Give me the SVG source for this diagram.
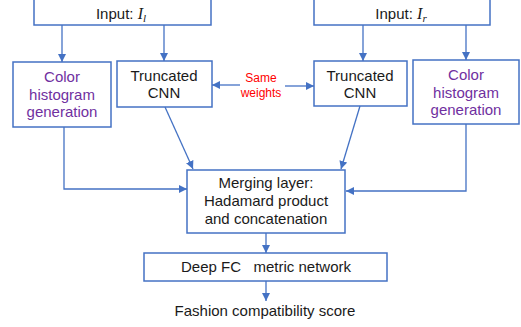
<svg xmlns="http://www.w3.org/2000/svg" width="521" height="327" viewBox="0 0 521 327">
<defs>
<marker id="ah" viewBox="0 0 10 10" refX="10" refY="5" markerWidth="8" markerHeight="8" markerUnits="userSpaceOnUse" orient="auto"><path d="M0,0 L10,5 L0,10 z" fill="#4472C4"/></marker>
<style>
.box{fill:#fff;stroke:#4472C4;stroke-width:1.5}
.t{font-family:"Liberation Sans",Arial,sans-serif;font-size:15px;fill:#1a1a1a;text-anchor:middle}
.p{fill:#7030A0}
.r{font-family:"Liberation Sans",Arial,sans-serif;font-size:12px;fill:#FF0000;text-anchor:middle}
.m{font-family:"Liberation Serif","Times New Roman",serif;font-style:italic}
.c{fill:none;stroke:#4472C4;stroke-width:1.3;marker-end:url(#ah)}
</style>
</defs>
<rect width="521" height="327" fill="#fff"/>
<g id="input-left"><rect class="box" x="34" y="-10" width="177" height="35"/><text class="t" x="121" y="19">Input: <tspan class="m" font-size="16">I</tspan><tspan class="m" font-size="11" dy="3">l</tspan></text></g>
<g id="input-right"><rect class="box" x="314" y="-10" width="176" height="35"/><text class="t" x="401" y="19">Input: <tspan class="m" font-size="16">I</tspan><tspan class="m" font-size="11" dy="3">r</tspan></text></g>
<g id="color-left"><rect class="box" x="13" y="62" width="98" height="65"/><text class="t p" x="62" y="82">Color</text><text class="t p" x="62" y="100">histogram</text><text class="t p" x="62" y="117">generation</text></g>
<g id="cnn-left"><rect class="box" x="117" y="61" width="95" height="46"/><text class="t" x="164" y="81">Truncated</text><text class="t" x="164" y="98">CNN</text></g>
<g id="cnn-right"><rect class="box" x="314" y="61" width="93" height="45"/><text class="t" x="360" y="81">Truncated</text><text class="t" x="360" y="98">CNN</text></g>
<g id="color-right"><rect class="box" x="413" y="60" width="106" height="64"/><text class="t p" x="466" y="80">Color</text><text class="t p" x="466" y="98">histogram</text><text class="t p" x="466" y="115">generation</text></g>
<g id="same-weights"><text class="r" x="261" y="82">Same</text><text class="r" x="261" y="97">weights</text></g>
<g id="merge"><rect class="box" x="187" y="170" width="158" height="63"/><text class="t" x="266" y="188">Merging layer:</text><text class="t" x="266" y="206">Hadamard product</text><text class="t" x="266" y="224">and concatenation</text></g>
<g id="deepfc"><rect class="box" x="144" y="253" width="243" height="28"/><text class="t" x="266" y="272" xml:space="preserve">Deep FC   metric network</text></g>
<g id="score"><text class="t" x="265" y="316">Fashion compatibility score</text></g>
<g id="connectors">
<line class="c" x1="62" y1="25" x2="62" y2="62"/>
<line class="c" x1="164" y1="25" x2="164" y2="61"/>
<line class="c" x1="363" y1="25" x2="363" y2="61"/>
<line class="c" x1="466" y1="25" x2="466" y2="60"/>
<line class="c" x1="240" y1="85" x2="212" y2="85"/>
<line class="c" x1="285" y1="86" x2="314" y2="86"/>
<polyline class="c" points="64,127 64,189 187,189"/>
<polyline class="c" points="466,124 466,191 346,191"/>
<line class="c" x1="165" y1="107" x2="193" y2="169"/>
<line class="c" x1="360" y1="106" x2="341" y2="169"/>
<line class="c" x1="266" y1="233" x2="266" y2="253"/>
<line class="c" x1="266" y1="281" x2="266" y2="301"/>
</g>
</svg>
